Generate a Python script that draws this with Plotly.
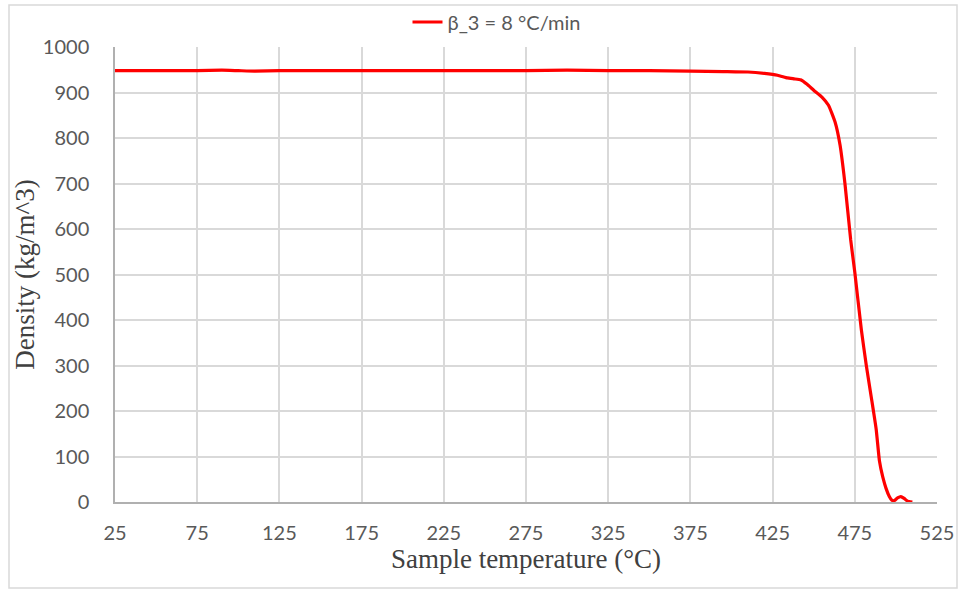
import plotly.graph_objects as go

temperature = [25, 50, 75, 90, 100, 110, 125, 175, 225, 275, 300, 325, 350, 375, 395,
               410, 420, 428, 434, 438, 442, 446, 450, 455, 459, 463, 466, 469, 472.5,
               475, 479, 482, 485, 488, 490, 492, 494, 496, 497.5, 499, 501, 503, 505,
               507, 510]
density = [948, 948, 948, 949, 948, 947, 948, 948, 948, 948, 949, 948, 948, 947, 946,
           945, 942, 938, 932, 930, 928, 918, 905, 890, 872, 835, 785, 700, 576,
           505, 378, 300, 231, 160, 90, 55, 30, 12, 4, 3, 9, 12, 8, 2, 0]

x_ticks = [25, 75, 125, 175, 225, 275, 325, 375, 425, 475, 525]
y_ticks = [0, 100, 200, 300, 400, 500, 600, 700, 800, 900, 1000]
series_name = "β_3 = 8 °C/min"

W, H = 964, 590
ml, mr, mt, mb = 115, 27, 47, 88
pw, ph = W - ml - mr, H - mt - mb

def px_x(p):
    return (p - ml) / pw

def px_y(p):
    return (H - mb - p) / ph

fig = go.Figure()
fig.add_trace(go.Scatter(
    x=temperature, y=density, mode="lines", name=series_name,
    line=dict(color="#ff0000", width=3.2, shape="spline", smoothing=0.4),
))

tick_font = dict(family="Lato, Liberation Sans, sans-serif", size=20, color="#595959")
title_font = dict(family="Liberation Serif, Times New Roman, serif", size=27, color="#404040")

fig.update_layout(
    width=W, height=H,
    margin=dict(l=ml, r=mr, t=mt, b=mb, autoexpand=False),
    paper_bgcolor="white", plot_bgcolor="white",
    showlegend=True,
    legend=dict(orientation="h", x=px_x(497), xanchor="center", y=px_y(22), yanchor="middle",
                font=dict(family="Lato, Liberation Sans, sans-serif", size=20, color="#595959"),
                bgcolor="rgba(0,0,0,0)"),
    xaxis=dict(range=[25, 525], tickmode="array", tickvals=x_ticks,
               showgrid=True, gridcolor="#d9d9d9", gridwidth=1.5,
               showline=True, linecolor="#b0b0b0", linewidth=1.5,
               zeroline=False, ticks="", tickfont=tick_font, ticklabelstandoff=12,
               title=dict(text="Sample temperature (°C)", font=title_font, standoff=6)),
    yaxis=dict(range=[0, 1000], tickmode="array", tickvals=y_ticks,
               showgrid=True, gridcolor="#d9d9d9", gridwidth=1.5,
               showline=True, linecolor="#b0b0b0", linewidth=1.5,
               zeroline=False, ticks="", tickfont=tick_font, ticklabelstandoff=20,
               title=dict(text="Density (kg/m^3)", font=title_font, standoff=0)),
    shapes=[dict(type="rect", xref="paper", yref="paper",
                 x0=px_x(9), x1=px_x(957), y0=px_y(588), y1=px_y(5),
                 line=dict(color="#d9d9d9", width=1.5), fillcolor="rgba(0,0,0,0)", layer="below")],
)

fig.write_html("out.html")
